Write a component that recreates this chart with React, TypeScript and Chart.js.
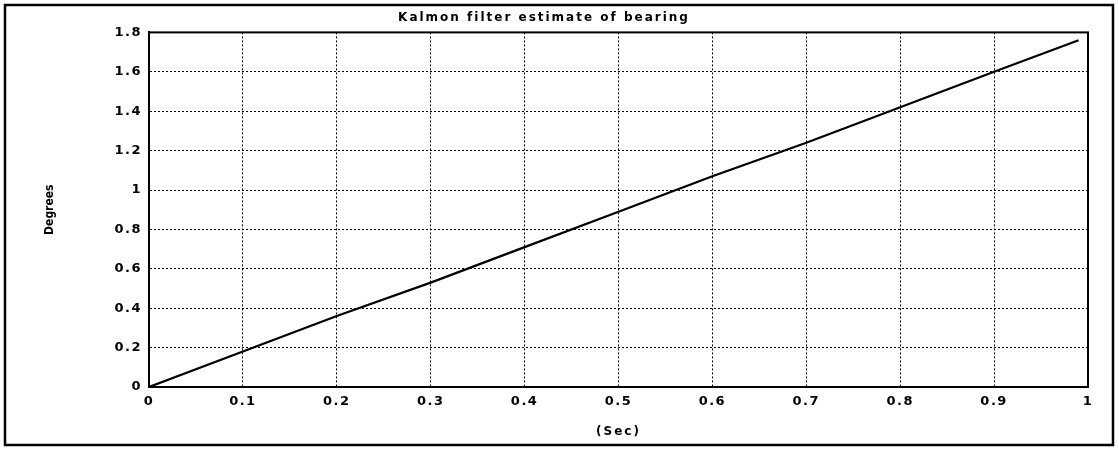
import React, { useEffect, useRef } from "react";
import { Chart, registerables } from "chart.js";

Chart.register(...registerables);

const timeSec = [0, 0.1, 0.2, 0.3, 0.4, 0.5, 0.6, 0.7, 0.8, 0.9, 0.99];
const bearingDeg = [0, 0.18, 0.36, 0.53, 0.71, 0.89, 1.07, 1.24, 1.42, 1.6, 1.76];
const xTickValues = [0, 0.1, 0.2, 0.3, 0.4, 0.5, 0.6, 0.7, 0.8, 0.9, 1];
const yTickValues = [0, 0.2, 0.4, 0.6, 0.8, 1, 1.2, 1.4, 1.6, 1.8];
const titleText = "Kalmon filter estimate of bearing";
const xTitle = "(Sec)";
const yTitle = "Degrees";

const W = 1119;
const H = 449;

function withSpacing(obj: any, key: string, sp: string) {
  if (!obj || !obj[key] || obj[key].__patched) return;
  const orig = obj[key];
  const f: any = function (this: any, ...args: any[]) {
    const c = this.ctx;
    c.save();
    c.letterSpacing = sp;
    orig.apply(this, args);
    c.restore();
  };
  f.__patched = true;
  obj[key] = f;
}

const framePlugin = {
  id: "frame",
  beforeDraw(chart: any) {
    const { ctx } = chart;
    ctx.save();
    ctx.fillStyle = "#ffffff";
    ctx.fillRect(0, 0, chart.width, chart.height);
    ctx.restore();
    withSpacing(chart.titleBlock, "draw", "2px");
    withSpacing(chart.scales.x, "drawLabels", "1.5px");
    withSpacing(chart.scales.y, "drawLabels", "1.5px");
    withSpacing(chart.scales.x, "drawTitle", "2px");
  },
  afterDraw(chart: any) {
    const { ctx, chartArea } = chart;
    ctx.save();
    ctx.strokeStyle = "#000";
    ctx.lineWidth = 2;
    ctx.strokeRect(chartArea.left, chartArea.top, chartArea.right - chartArea.left, chartArea.bottom - chartArea.top);
    ctx.lineWidth = 2.5;
    ctx.strokeRect(5, 5, 1108, 440);
    ctx.restore();
  },
};

const fmt = (v: any) => String(Number(Number(v).toFixed(1)));

export default function App() {
  const ref = useRef<HTMLCanvasElement | null>(null);
  useEffect(() => {
    if (!ref.current) return;
    const tickFont = { family: "'DejaVu Sans', sans-serif", size: 13, weight: "bold" as const };
    const chart = new Chart(ref.current, {
      type: "line",
      data: {
        datasets: [
          {
            data: timeSec.map((t, i) => ({ x: t, y: bearingDeg[i] })),
            borderColor: "#000",
            borderWidth: 2.2,
            pointRadius: 0,
            tension: 0,
            fill: false,
          },
        ],
      },
      options: {
        animation: false,
        responsive: false,
        maintainAspectRatio: false,
        layout: { padding: { left: 0, right: 31, top: 0, bottom: 0 } },
        plugins: {
          legend: { display: false },
          tooltip: { enabled: false },
          title: {
            display: true,
            text: titleText,
            color: "#000",
            font: { family: "'DejaVu Sans', sans-serif", size: 12, weight: "bold" },
            padding: { top: 11, bottom: 7 },
          },
        },
        scales: {
          x: {
            type: "linear",
            min: 0,
            max: 1,
            afterBuildTicks: (s: any) => {
              s.ticks = xTickValues.map((v) => ({ value: v }));
            },
            afterFit: (s: any) => {
              s.height = 62;
            },
            ticks: {
              color: "#000",
              font: tickFont,
              padding: 7,
              maxRotation: 0,
              autoSkip: false,
              callback: (v: any) => fmt(v),
            },
            grid: { color: "#000", lineWidth: 1, drawTicks: false },
            border: { color: "#000", width: 2, dash: [2, 2] },
            title: {
              display: true,
              text: xTitle,
              color: "#000",
              font: { family: "'DejaVu Sans', sans-serif", size: 12, weight: "bold" },
              padding: { top: 0, bottom: 10 },
            },
          },
          y: {
            type: "linear",
            min: 0,
            max: 1.8,
            afterBuildTicks: (s: any) => {
              s.ticks = yTickValues.map((v) => ({ value: v }));
            },
            afterFit: (s: any) => {
              s.width = 149;
            },
            ticks: {
              color: "#000",
              font: tickFont,
              padding: 7,
              autoSkip: false,
              callback: (v: any) => fmt(v),
            },
            grid: { color: "#000", lineWidth: 1, drawTicks: false },
            border: { color: "#000", width: 2, dash: [2, 2] },
            title: {
              display: true,
              text: yTitle,
              color: "#000",
              font: { family: "'DejaVu Sans Condensed', 'Liberation Sans Narrow', sans-serif", size: 12, weight: "bold" },
              padding: { top: 43, bottom: 0 },
            },
          },
        },
      },
      plugins: [framePlugin],
    } as any);
    return () => chart.destroy();
  }, []);
  return (
    <div style={{ position: "fixed", left: 0, top: 0, width: W, height: H, background: "#fff" }}>
      <canvas ref={ref} width={W} height={H} style={{ width: W, height: H, display: "block" }} />
    </div>
  );
}
